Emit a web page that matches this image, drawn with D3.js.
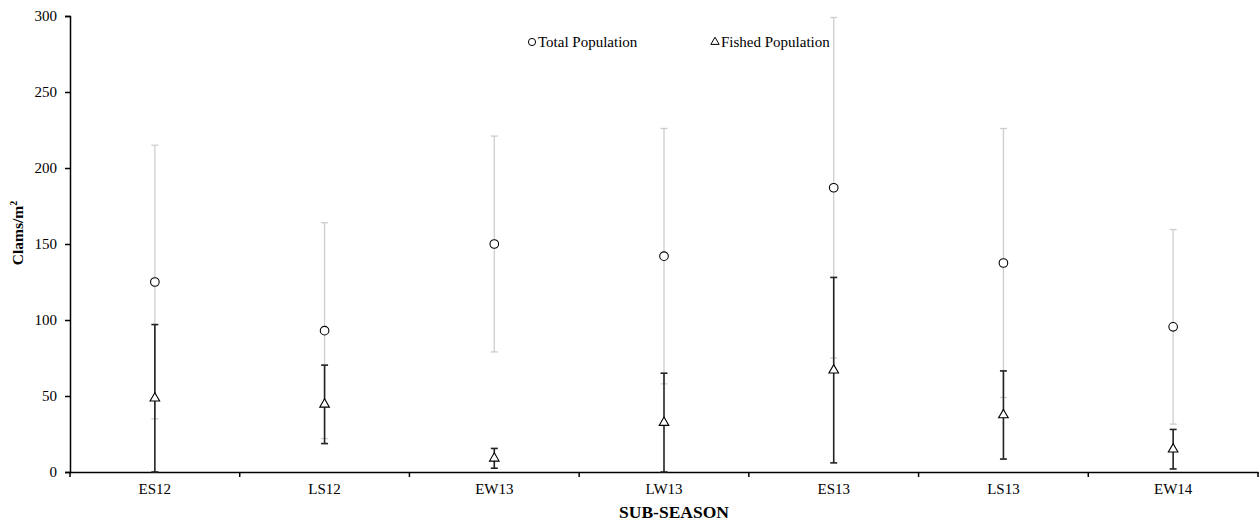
<!DOCTYPE html>
<html><head><meta charset="utf-8">
<script src="https://cdn.jsdelivr.net/npm/d3@7"></script>
<style>body{margin:0;background:#fff}svg text{font-family:"Liberation Serif","Times New Roman",serif}</style>
</head><body><svg id="c" width="1260" height="524"></svg>
<script>
const categories = ["ES12","LS12","EW13","LW13","ES13","LS13","EW14"];
const totalMean = [125, 93, 150, 142, 187, 137.5, 95.5];
const totalErr  = [90, 71, 71, 84, 112, 88.5, 64];
const fishedMean = [48.5, 44.5, 9, 32.5, 67, 37.5, 15];
const fishedErr  = [48.5, 25.8, 6.5, 32.5, 61, 29, 13];
const yTicks = [0, 50, 100, 150, 200, 250, 300];

const svg = d3.select("#c");
const m = {l:70, r:1258, t:16, b:472};
const x = d3.scaleBand().domain(categories).range([m.l, m.r]);
const y = d3.scaleLinear().domain([0,300]).range([m.b, m.t]);
const cx = d => x(d) + x.bandwidth()/2;

// axes
const yAx = svg.append("g").attr("transform",`translate(${m.l},0)`)
  .call(d3.axisLeft(y).tickValues(yTicks).tickSize(5).tickPadding(8));
const xAx = svg.append("g").attr("transform",`translate(0,${m.b})`)
  .call(d3.axisBottom(x).tickSize(0).tickPadding(11));
[yAx,xAx].forEach(g=>{
  g.select(".domain").attr("stroke","#000").attr("stroke-width",1.5);
  g.selectAll("text").attr("font-size",15).attr("fill","#000").attr("font-family","Liberation Serif");
  g.selectAll(".tick line").attr("stroke","#000").attr("stroke-width",1.5);
});
// x ticks at band boundaries
svg.append("g").selectAll("line").data(categories.concat(["_end"])).join("line")
  .attr("x1",(d,i)=> i<categories.length ? x(d) : m.r)
  .attr("x2",(d,i)=> i<categories.length ? x(d) : m.r)
  .attr("y1",m.b).attr("y2",m.b+5).attr("stroke","#000").attr("stroke-width",1.5);

// error bars
function errBars(mean, err, color, w){
  const g = svg.append("g").attr("stroke",color).attr("stroke-width",w);
  categories.forEach((c,i)=>{
    const lo = Math.max(0, mean[i]-err[i]), hi = mean[i]+err[i];
    g.append("line").attr("x1",cx(c)).attr("x2",cx(c)).attr("y1",y(lo)).attr("y2",y(hi));
    g.append("line").attr("x1",cx(c)-3.5).attr("x2",cx(c)+3.5).attr("y1",y(hi)).attr("y2",y(hi));
    g.append("line").attr("x1",cx(c)-3.5).attr("x2",cx(c)+3.5).attr("y1",y(lo)).attr("y2",y(lo));
  });
}
errBars(totalMean, totalErr, "#cdcdcd", 1.3);
errBars(fishedMean, fishedErr, "#222", 1.6);

// markers
svg.append("g").selectAll("circle").data(categories).join("circle")
  .attr("cx",cx).attr("cy",(d,i)=>y(totalMean[i])).attr("r",4.3)
  .attr("fill","#fff").attr("stroke","#000").attr("stroke-width",1.1);
const tri = d3.symbol().type(d3.symbolTriangle).size(40);
svg.append("g").selectAll("path").data(categories).join("path")
  .attr("d",tri).attr("transform",(d,i)=>`translate(${cx(d)},${y(fishedMean[i])})`)
  .attr("fill","#fff").attr("stroke","#000").attr("stroke-width",1.1);

// legend
svg.append("circle").attr("cx",532).attr("cy",42).attr("r",3.6).attr("fill","#fff").attr("stroke","#000").attr("stroke-width",1);
svg.append("text").attr("x",538).attr("y",46.5).attr("font-size",15).text("Total Population");
svg.append("path").attr("d",d3.symbol().type(d3.symbolTriangle).size(30)).attr("transform","translate(715,42)")
  .attr("fill","#fff").attr("stroke","#000").attr("stroke-width",1);
svg.append("text").attr("x",721).attr("y",46.5).attr("font-size",15).text("Fished Population");

// axis titles
svg.append("text").attr("x",674).attr("y",518).attr("text-anchor","middle")
  .attr("font-size",17.5).attr("font-weight","bold").text("SUB-SEASON");
const yt = svg.append("text").attr("transform","translate(23,233) rotate(-90)").attr("text-anchor","middle")
  .attr("font-size",15.5).attr("font-weight","bold");
yt.append("tspan").text("Clams/m");
yt.append("tspan").attr("font-size",10).attr("dy",-6).text("2");
</script></body></html>
